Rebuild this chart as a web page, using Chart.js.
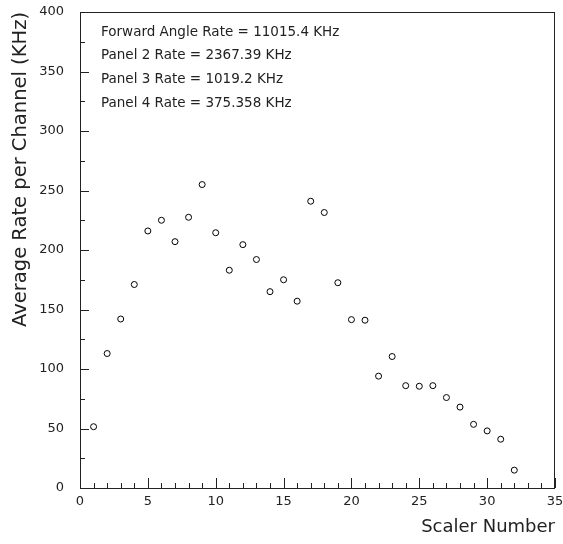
<!DOCTYPE html>
<html>
<head>
<meta charset="utf-8">
<script src="https://cdn.jsdelivr.net/npm/chart.js@4.4.0/dist/chart.umd.min.js"></script>
<style>
  html, body { margin: 0; padding: 0; background: #fff; }
</style>
</head>
<body>
<canvas id="myChart" width="563" height="544"></canvas>
<script>
const scalerNumbers = [1, 2, 3, 4, 5, 6, 7, 8, 9, 10, 11, 12, 13, 14, 15, 16,
  17, 18, 19, 20, 21, 22, 23, 24, 25, 26, 27, 28, 29, 30, 31, 32];
const avgRates = [51.5, 113, 142, 171, 216, 225, 207, 227.5, 255, 214.5, 183, 204.5, 192, 165, 175, 157,
  241, 231.5, 172.5, 141.5, 141, 94, 110.5, 86, 85.5, 86, 76, 68, 53.5, 48, 41, 15];
const rateLabels = [
  "Forward Angle Rate = 11015.4 KHz",
  "Panel 2 Rate = 2367.39 KHz",
  "Panel 3 Rate = 1019.2 KHz",
  "Panel 4 Rate = 375.358 KHz"
];
const xTitle = "Scaler Number";
const yTitle = "Average Rate per Channel (KHz)";

const fontFamily = "'DejaVu Sans', sans-serif";
const inkColor = "#222";

// frame + inward ticks, the way the old plot has them
const framePlugin = {
  id: 'frame',
  afterDatasetsDraw(chart) {
    const ctx = chart.ctx;
    const area = chart.chartArea;
    const xs = chart.scales.x;
    const ys = chart.scales.y;
    ctx.save();
    ctx.strokeStyle = inkColor;
    ctx.lineWidth = 1;
    ctx.strokeRect(area.left + 0.5, area.top + 0.5, area.right - area.left - 1, area.bottom - area.top);

    ctx.beginPath();
    for (let v = xs.min; v <= xs.max; v += 1) {
      const px = Math.round(xs.getPixelForValue(v)) + 0.5;
      const len = v % 5 === 0 ? 10 : 5;
      ctx.moveTo(px, area.bottom);
      ctx.lineTo(px, area.bottom - len);
    }
    for (let v = ys.min; v <= ys.max; v += 25) {
      const py = Math.round(ys.getPixelForValue(v)) + 0.5;
      const len = v % 50 === 0 ? 9 : 5;
      ctx.moveTo(area.left, py);
      ctx.lineTo(area.left + len, py);
    }
    ctx.stroke();

    ctx.fillStyle = inkColor;
    ctx.font = "13.5px " + fontFamily;
    ctx.textBaseline = 'middle';
    rateLabels.forEach((txt, i) => {
      ctx.fillText(txt, area.left + 21, area.top + 20 + i * 23.7);
    });
    ctx.restore();
  }
};

const ctx = document.getElementById('myChart').getContext('2d');
const chart = new Chart(ctx, {
  type: 'scatter',
  data: {
    datasets: [{
      data: scalerNumbers.map((n, i) => ({ x: n, y: avgRates[i] })),
      pointStyle: 'circle',
      pointRadius: 3,
      pointBorderWidth: 1,
      pointBorderColor: '#000',
      pointBackgroundColor: 'rgba(0,0,0,0)'
    }]
  },
  options: {
    responsive: false,
    animation: false,
    layout: { padding: { top: 12, right: 8, left: 0, bottom: 0 } },
    plugins: {
      legend: { display: false },
      tooltip: { enabled: false }
    },
    scales: {
      x: {
        type: 'linear',
        min: 0,
        max: 35,
        afterFit: (scale) => {
          scale.height = 56;
          scale.paddingLeft = 0;
          scale.paddingRight = 0;
        },
        grid: { display: false, drawTicks: false },
        border: { display: false },
        ticks: {
          stepSize: 5,
          padding: 6,
          color: inkColor,
          font: { family: fontFamily, size: 13 },
          maxRotation: 0
        },
        title: {
          display: true,
          text: xTitle,
          align: 'end',
          color: inkColor,
          font: { family: fontFamily, size: 18 },
          padding: { top: 0, bottom: 6 }
        }
      },
      y: {
        min: 0,
        max: 400,
        afterFit: (scale) => {
          scale.width = 80;
          scale.paddingTop = 0;
          scale.paddingBottom = 0;
        },
        grid: { display: false, drawTicks: false },
        border: { display: false },
        ticks: {
          stepSize: 50,
          padding: 16,
          color: inkColor,
          font: { family: fontFamily, size: 13 }
        },
        title: {
          display: true,
          text: yTitle,
          align: 'end',
          color: inkColor,
          font: { family: fontFamily, size: 19.5 },
          padding: { top: 9, bottom: 0 }
        }
      }
    }
  },
  plugins: [framePlugin]
});
</script>
</body>
</html>
